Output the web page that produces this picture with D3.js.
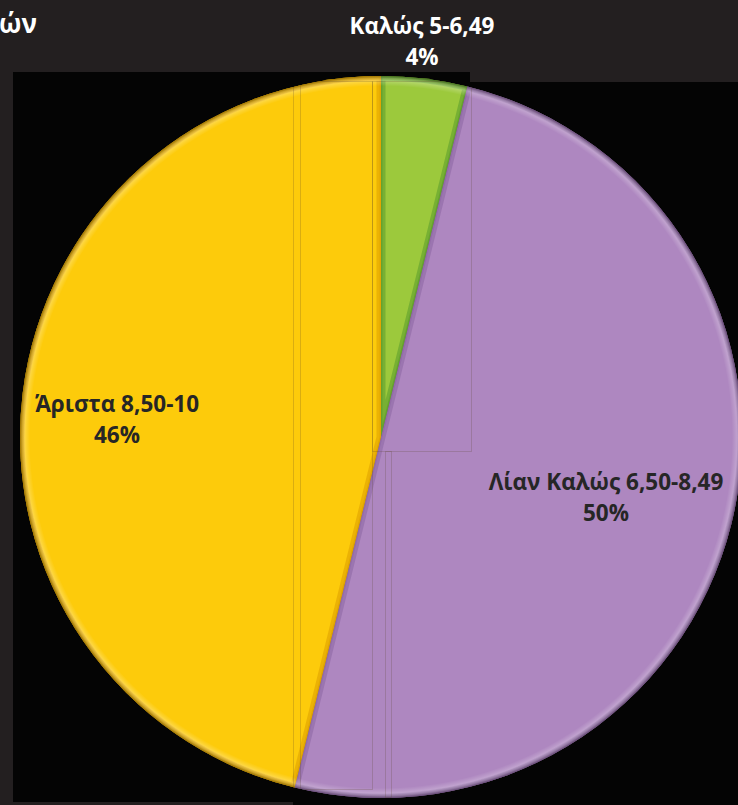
<!DOCTYPE html>
<html>
<head>
<meta charset="utf-8">
<script src="https://cdn.jsdelivr.net/npm/d3@7"></script>
<style>
  html, body { margin: 0; padding: 0; background: #231f20; overflow: hidden; }
  svg { display: block; }
</style>
</head>
<body>
<div id="chart"></div>
<script>
// Chart data: grade categories, student counts and colours
var categories = ['Καλώς 5-6,49', 'Λίαν Καλώς 6,50-8,49', 'Άριστα 8,50-10'];
var counts = [1, 13, 12];
var percentLabels = ['4%', '50%', '46%'];
var sliceColors = ['#9cc93c', '#ae87c0', '#fdcb0b'];
var edgeColors = ['#5a9a2c', '#8d66a3', '#dc9f00'];
var labelColors = ['#ffffff', '#262626', '#262626'];

function drawChart() {
    var svgWidth = 738;
    var svgHeight = 805;
    var font = '"Open Sans", Lato, sans-serif';

    var svg = d3.select('#chart')
        .append('svg')
        .attr('width', svgWidth)
        .attr('height', svgHeight);

    // Dark background and the black plot panels
    svg.append('rect').attr('width', svgWidth).attr('height', svgHeight).attr('fill', '#231f20');
    svg.append('rect').attr('x', 13).attr('y', 72).attr('width', 457).attr('height', 730).attr('fill', '#040404');
    svg.append('rect').attr('x', 293).attr('y', 82).attr('width', 445).attr('height', 723).attr('fill', '#040404');

    // Cut-off title at top left
    svg.append('text')
        .attr('x', -1).attr('y', 33)
        .attr('fill', '#ffffff')
        .attr('font-family', font)
        .attr('font-weight', 'bold')
        .attr('font-size', 26)
        .text('ών');

    var cx = 381, cy = 437, radius = 361;

    var table = categories.map(function(c, i) {
        return { name: c, value: counts[i], pct: percentLabels[i], color: sliceColors[i], edge: edgeColors[i], labelColor: labelColors[i] };
    });

    var pie = d3.pie().sort(null).value(function(d) { return d.value; });
    var arcs = pie(table);

    var arc = d3.arc().innerRadius(0).outerRadius(radius);
    var rimArc = d3.arc().innerRadius(radius - 10).outerRadius(radius);

    var defs = svg.append('defs');
    var glow = defs.append('radialGradient').attr('id', 'rim')
        .attr('gradientUnits', 'userSpaceOnUse')
        .attr('cx', 0).attr('cy', 0).attr('r', radius);
    glow.append('stop').attr('offset', '0.972').attr('stop-color', '#ffffff').attr('stop-opacity', 0);
    glow.append('stop').attr('offset', '0.988').attr('stop-color', '#ffffff').attr('stop-opacity', 0.25);
    glow.append('stop').attr('offset', '1').attr('stop-color', '#000000').attr('stop-opacity', 0.3);

    arcs.forEach(function(d, i) {
        defs.append('clipPath').attr('id', 'clip' + i)
            .append('path').attr('d', arc(d));
    });
    defs.append('clipPath').attr('id', 'pieClip')
        .append('circle').attr('cx', cx).attr('cy', cy).attr('r', radius);

    var g = svg.append('g').attr('transform', 'translate(' + cx + ',' + cy + ')');

    // Slices
    g.selectAll('path.slice')
        .data(arcs)
        .enter()
        .append('path')
        .attr('class', 'slice')
        .attr('d', arc)
        .attr('fill', function(d) { return d.data.color; });

    // Soft darker inner edge (bevel)
    g.selectAll('path.bevel')
        .data(arcs)
        .enter()
        .append('path')
        .attr('class', 'bevel')
        .attr('d', arc)
        .attr('clip-path', function(d, i) { return 'url(#clip' + i + ')'; })
        .attr('fill', 'none')
        .attr('stroke', function(d) { return d.data.edge; })
        .attr('stroke-opacity', 0.55)
        .attr('stroke-width', 9);

    g.selectAll('path.bevel2')
        .data(arcs)
        .enter()
        .append('path')
        .attr('class', 'bevel2')
        .attr('d', arc)
        .attr('clip-path', function(d, i) { return 'url(#clip' + i + ')'; })
        .attr('fill', 'none')
        .attr('stroke', function(d) { return d.data.edge; })
        .attr('stroke-opacity', 0.6)
        .attr('stroke-width', 3);

    // Light on the rim
    g.selectAll('path.rim')
        .data(arcs)
        .enter()
        .append('path')
        .attr('class', 'rim')
        .attr('d', rimArc)
        .attr('fill', 'url(#rim)');

    // Faint leftover outline boxes
    var boxes = svg.append('g')
        .attr('clip-path', 'url(#pieClip)')
        .attr('fill', 'none')
        .attr('stroke', 'rgba(90,70,40,0.22)')
        .attr('stroke-width', 1);
    boxes.append('rect').attr('x', 300.5).attr('y', 81.5).attr('width', 72).attr('height', 708);
    boxes.append('rect').attr('x', 372.5).attr('y', 81.5).attr('width', 99).attr('height', 370);
    boxes.append('line').attr('x1', 293.5).attr('x2', 293.5).attr('y1', 81).attr('y2', 800);
    boxes.append('rect').attr('x', 385.5).attr('y', 451.5).attr('width', 6).attr('height', 346);

    // Labels
    var labelPos = [[422, 34], [606, 490], [117, 412]];
    var labels = svg.append('g')
        .attr('font-family', font)
        .attr('font-weight', 'bold')
        .attr('font-size', 22.5)
        .attr('text-anchor', 'middle');

    table.forEach(function(d, i) {
        var t = labels.append('text')
            .attr('x', labelPos[i][0])
            .attr('y', labelPos[i][1])
            .attr('fill', d.labelColor);
        t.append('tspan').attr('x', labelPos[i][0]).text(d.name);
        t.append('tspan').attr('x', labelPos[i][0]).attr('dy', 31).text(d.pct);
    });
}

drawChart();
</script>
</body>
</html>
